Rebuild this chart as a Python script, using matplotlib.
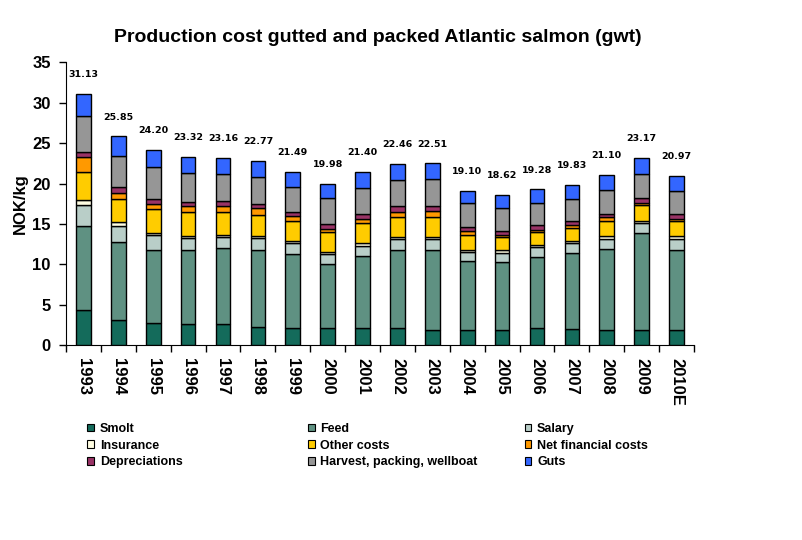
import matplotlib
matplotlib.use("Agg")
import matplotlib.pyplot as plt
from matplotlib.patches import Patch
import numpy as np

years = ['1993', '1994', '1995', '1996', '1997', '1998', '1999', '2000', '2001',
         '2002', '2003', '2004', '2005', '2006', '2007', '2008', '2009', '2010E']

smolt = [4.37, 3.09, 2.72, 2.60, 2.60, 2.27, 2.15, 2.15, 2.15,
         2.15, 1.90, 1.90, 1.90, 2.15, 2.02, 1.90, 1.90, 1.90]
feed = [10.36, 9.66, 9.04, 9.16, 9.40, 9.49, 9.11, 7.87, 8.86,
        9.61, 9.86, 8.50, 8.37, 8.74, 9.37, 9.98, 11.96, 9.86]
salary = [2.60, 1.98, 1.85, 1.48, 1.45, 1.48, 1.36, 1.28, 1.24,
          1.36, 1.36, 1.11, 1.12, 1.24, 1.23, 1.24, 1.24, 1.36]
insurance = [0.62, 0.49, 0.29, 0.29, 0.21, 0.29, 0.25, 0.25, 0.37,
             0.25, 0.25, 0.25, 0.37, 0.25, 0.25, 0.37, 0.25, 0.37]
other_costs = [3.46, 2.85, 2.93, 2.93, 2.80, 2.56, 2.48, 2.44, 2.48,
               2.47, 2.47, 1.85, 1.61, 1.61, 1.61, 1.86, 1.98, 1.86]
net_financial = [1.86, 0.82, 0.70, 0.74, 0.74, 0.87, 0.62, 0.37, 0.49,
                 0.62, 0.74, 0.50, 0.24, 0.24, 0.37, 0.49, 0.24, 0.24]
depreciations = [0.62, 0.66, 0.54, 0.50, 0.62, 0.49, 0.49, 0.62, 0.62,
                 0.74, 0.62, 0.49, 0.50, 0.62, 0.50, 0.37, 0.62, 0.62]
harvest = [4.45, 3.92, 3.96, 3.59, 3.34, 3.34, 3.09, 3.25, 3.26,
           3.22, 3.34, 2.97, 2.85, 2.72, 2.72, 2.97, 2.97, 2.85]
guts = [2.79, 2.38, 2.17, 2.03, 2.00, 1.98, 1.94, 1.75, 1.93,
        2.04, 1.97, 1.53, 1.66, 1.71, 1.76, 1.92, 2.01, 1.91]
totals = [31.13, 25.85, 24.20, 23.32, 23.16, 22.77, 21.49, 19.98, 21.40,
          22.46, 22.51, 19.10, 18.62, 19.28, 19.83, 21.10, 23.17, 20.97]

series = [
    ('Smolt', smolt, '#146b5b'),
    ('Feed', feed, '#5f9182'),
    ('Salary', salary, '#b9cec8'),
    ('Insurance', insurance, '#fffde2'),
    ('Other costs', other_costs, '#ffcc00'),
    ('Net financial costs', net_financial, '#ff9900'),
    ('Depreciations', depreciations, '#993366'),
    ('Harvest, packing, wellboat', harvest, '#969696'),
    ('Guts', guts, '#3366ff'),
]

fig = plt.figure(figsize=(8.02, 5.40), dpi=100)
ax = fig.add_axes([0.0823, 0.3606, 0.783, 0.5237])

x = np.arange(len(years))
bottom = np.zeros(len(years))
handles = []
for name, vals, col in series:
    ax.bar(x, vals, 0.42, bottom=bottom, color=col, edgecolor='black', linewidth=1, zorder=3)
    bottom += np.array(vals)
    handles.append(Patch(facecolor=col, edgecolor='black', linewidth=0.8, label=name))

for i, t in enumerate(totals):
    ax.text(x[i], bottom[i] + 2.4, f'{t:.2f}', ha='center', va='center',
            fontsize=6.8, fontweight='bold', family='DejaVu Sans')

ax.set_xlim(-0.5, len(years) - 0.5)
ax.set_ylim(0, 35)
ax.set_yticks(range(0, 36, 5))
ax.set_xticks(x)
ax.set_xticklabels(years, rotation=270, fontsize=12, fontweight='bold', family='Liberation Sans')
ax.set_xticks(np.arange(-0.5, len(years)), minor=True)
ax.tick_params(axis='x', which='major', length=0, pad=9)
ax.tick_params(axis='x', which='minor', length=5, direction='out', width=1)
ax.tick_params(axis='y', length=5, direction='out', width=1, pad=6)
for lab in ax.get_yticklabels():
    lab.set_fontsize(12)
    lab.set_fontweight('bold')
    lab.set_family('Liberation Sans')
ax.spines['top'].set_visible(False)
ax.spines['right'].set_visible(False)
ax.set_ylabel('NOK/kg', fontsize=12, fontweight='bold', family='Liberation Sans', labelpad=3)

fig.text(0.471, 0.93, 'Production cost gutted and packed Atlantic salmon (gwt)',
         ha='center', va='center', fontsize=14, fontweight='bold', family='Liberation Sans')

# three legend columns, rows go across
col_x = [0.109, 0.384, 0.654]
for c in range(3):
    hs = [handles[c], handles[c + 3], handles[c + 6]]
    fig.legend(handles=hs, loc='upper left', bbox_to_anchor=(col_x[c], 0.2167),
               frameon=False, handlelength=0.55, handleheight=0.55,
               handletextpad=0.45, labelspacing=0.37, borderpad=0, borderaxespad=0,
               prop={'family': 'Liberation Sans', 'weight': 'bold', 'size': 9})

fig.savefig('out.png', dpi=100)
